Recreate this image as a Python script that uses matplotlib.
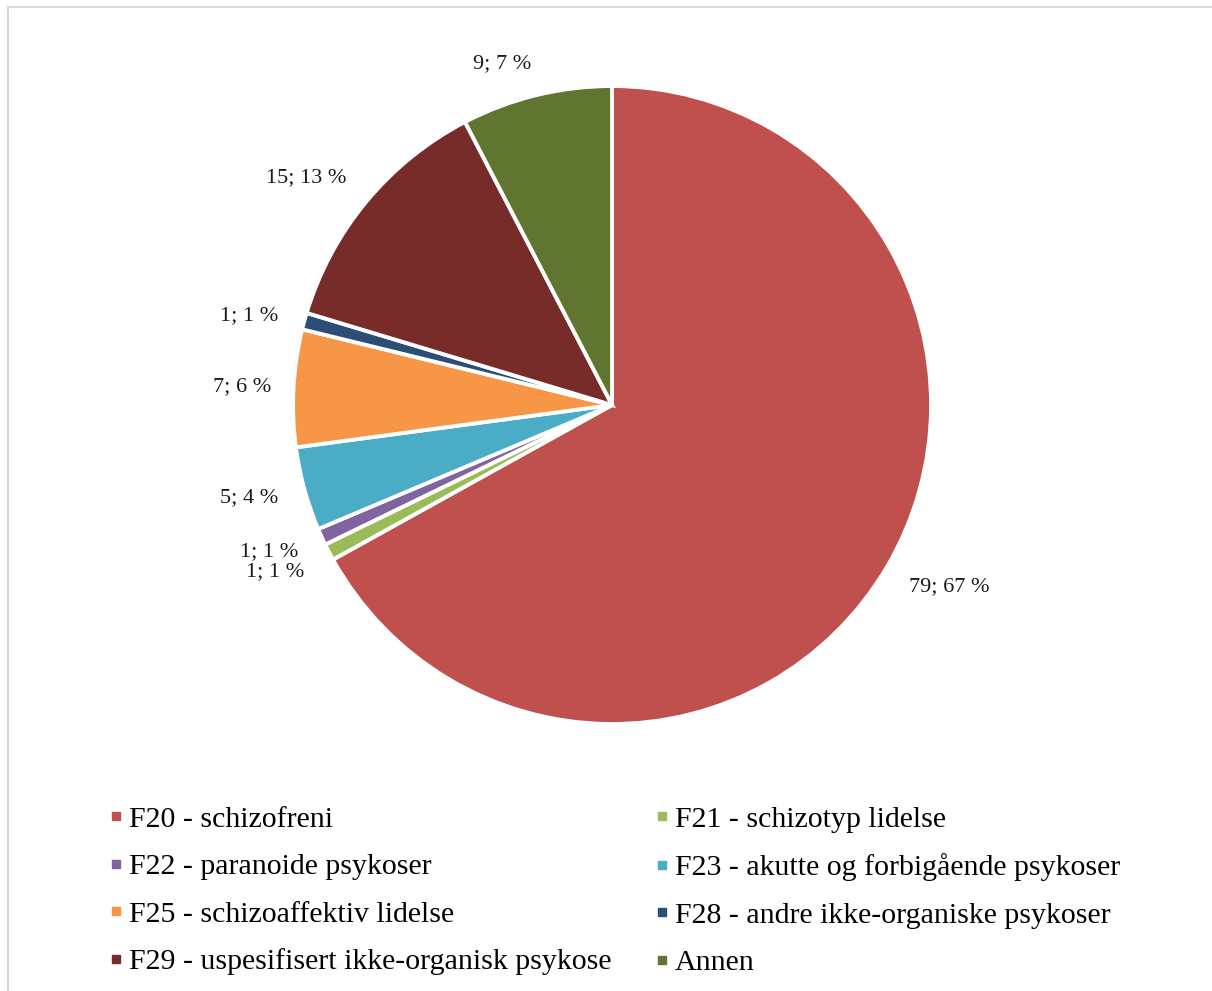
import matplotlib
matplotlib.use("Agg")
import matplotlib.pyplot as plt
from matplotlib.lines import Line2D

# data
labels = ["F20 - schizofreni", "F21 - schizotyp lidelse", "F22 - paranoide psykoser",
          "F23 - akutte og forbigående psykoser", "F25 - schizoaffektiv lidelse",
          "F28 - andre ikke-organiske psykoser", "F29 - uspesifisert ikke-organisk psykose",
          "Annen"]
counts = [79, 1, 1, 5, 7, 1, 15, 9]
pcts = [67, 1, 1, 4, 6, 1, 13, 7]
colors = ["#C0504D", "#9BBB59", "#8064A2", "#4BACC6", "#F79646", "#2C4D75", "#772C2A", "#5F7530"]

plt.rcParams["font.family"] = ["Liberation Serif", "DejaVu Serif"]

fig = plt.figure(figsize=(12.12, 9.91), dpi=100)
ax = fig.add_axes([0.2418, 0.2694, 0.5264, 0.6438])

data_labels = [f"{c}; {p} %" for c, p in zip(counts, pcts)]
wedges, texts = ax.pie(counts, colors=colors, startangle=90, counterclock=False,
                       labels=data_labels, labeldistance=1.07,
                       wedgeprops=dict(edgecolor="white", linewidth=2.8),
                       textprops=dict(fontsize=16, color="#1a1a1a"))
ax.set_xlim(-1, 1)
ax.set_ylim(-1, 1)
ax.set_aspect("equal")

# small nudges so labels sit like in the original
def nudge(t, dx, dy):
    x, y = t.get_position()
    t.set_position((x + dx, y + dy))

nudge(texts[0], 0.01, -0.025)
nudge(texts[1], -0.015, -0.03)
nudge(texts[2], -0.01, -0.018)
nudge(texts[3], -0.015, -0.01)
nudge(texts[5], -0.015, 0.0)
nudge(texts[6], -0.01, 0.03)
texts[7].set_va("bottom")

# legend: row-wise order in two columns
order = [0, 2, 4, 6, 1, 3, 5, 7]
handles = [Line2D([], [], marker="s", ls="", color=colors[i], markersize=6) for i in order]
fig.legend(handles, [labels[i] for i in order], ncol=2, loc="upper left",
           bbox_to_anchor=(0.080, 0.199), frameon=False, fontsize=21.5,
           handlelength=0.5, handletextpad=0.18, labelspacing=0.69, columnspacing=1.43,
           borderaxespad=0)

# light frame round the chart area
fig.add_artist(Line2D([8 / 1212, 8 / 1212], [0, 1 - 7 / 991], color="#D9D9D9", lw=1.5))
fig.add_artist(Line2D([8 / 1212, 1], [1 - 7 / 991, 1 - 7 / 991], color="#D9D9D9", lw=1.5))

fig.savefig("out.png", dpi=100)
